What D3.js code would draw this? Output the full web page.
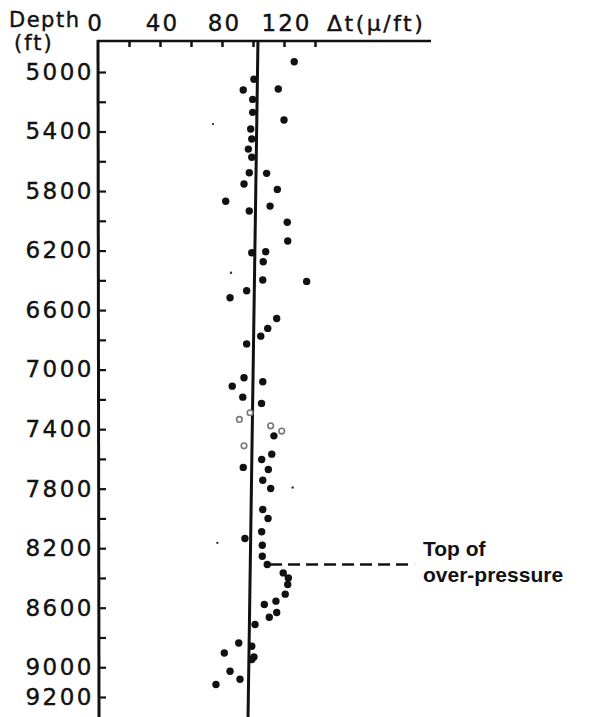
<!DOCTYPE html>
<html lang="en">
<head>
  <meta charset="UTF-8" />
  <title>Sonic log vs depth</title>
  <style>
    html, body {
      margin: 0;
      padding: 0;
      background: #fff;
    }
    svg text {
      font-family: "DejaVu Sans", sans-serif;
      fill: #111;
      stroke: #111;
      stroke-width: 0.4px;
    }
    svg text.note {
      font-family: "Liberation Sans", Arial, sans-serif;
      font-weight: bold;
      stroke: none;
    }
  </style>
</head>
<body>
  <svg id="chart" width="599" height="717"></svg>

  <script src="https://d3js.org/d3.v7.min.js"></script>
  <script>
    // depth (ft) and transit time (μs/ft)
    const depth = [4931, 5049, 5121, 5114, 5184, 5271, 5323, 5383, 5450, 5518,
      5573, 5677, 5681, 5753, 5789, 5869, 5901, 5934, 6010, 6136,
      6215, 6208, 6275, 6398, 6407, 6470, 6517, 6656, 6723, 6775,
      6827, 7055, 7082, 7111, 7185, 7227, 7290, 7335, 7378, 7413,
      7445, 7512, 7568, 7604, 7657, 7671, 7743, 7799, 7940, 8000,
      8090, 8135, 8180, 8254, 8310, 8366, 8400, 8444, 8509, 8556,
      8578, 8632, 8664, 8713, 8837, 8859, 8904, 8931, 8948, 9027,
      9081, 9116];
    const dt = [126.6, 100.6, 93.7, 116.3, 99.8, 99.8, 120.0, 98.5, 99.2, 97.0,
      99.2, 97.6, 108.8, 94.2, 115.7, 82.4, 111.0, 97.6, 122.1, 122.4,
      99.2, 108.2, 106.6, 106.3, 134.6, 95.9, 85.2, 115.3, 109.5, 105.0,
      95.9, 94.2, 106.3, 86.6, 93.4, 105.5, 98.1, 91.2, 111.4, 118.5,
      113.5, 94.2, 112.1, 105.6, 93.7, 109.9, 106.3, 111.4, 106.3, 109.7,
      105.6, 94.8, 106.0, 106.0, 109.2, 119.5, 122.8, 122.4, 120.8, 114.8,
      107.3, 115.3, 110.5, 101.3, 90.8, 99.2, 81.5, 100.6, 99.2, 85.2,
      91.6, 76.1];
    // faint, half-printed points around 7300-7500 ft
    const faintPoints = [36, 37, 38, 39, 41];

    // stray specks on the original print
    const speckDepth = [5350, 6349, 7792, 8164];
    const speckDt = [74.2, 85.8, 125.6, 77.0];

    // normal compaction trend line
    const trendDepth = [4792, 9336];
    const trendDt = [103.2, 96.8];

    const overPressureDepth = 8310;
    const overPressureDt = [111, 204];

    const xTicks = [0, 20, 40, 60, 80, 100, 120, 140];
    const xLabels = [0, 40, 80, 120];
    const yTicks = [5000, 5200, 5400, 5600, 5800, 6000, 6200, 6400, 6600, 6800,
      7000, 7200, 7400, 7600, 7800, 8000, 8200, 8400, 8600, 8800, 9000, 9200];
    const yLabels = [5000, 5400, 5800, 6200, 6600, 7000, 7400, 7800, 8200, 8600, 9000, 9200];

    const svg = d3.select("#chart");

    const x = d3.scaleLinear().domain([0, 140]).range([98, 315]);
    const y = d3.scaleLinear().domain([5000, 9200]).range([72, 697]);
    const axisTopY = 41;
    const axisLeftX = 98;

    // top axis
    const gTop = svg.append("g")
      .attr("transform", `translate(0,${axisTopY})`)
      .call(d3.axisTop(x)
        .tickValues(xTicks)
        .tickSizeInner(-6)
        .tickSizeOuter(0)
        .tickPadding(10)
        .tickFormat(d => xLabels.includes(d) ? d : ""));
    gTop.select(".domain").remove();
    gTop.selectAll(".tick line").attr("stroke", "#111").attr("stroke-width", 2.5);
    gTop.selectAll(".tick").filter(d => d === 0).select("line").remove();
    gTop.selectAll(".tick text")
      .style("font-size", "23px")
      .style("letter-spacing", "2px")
      .attr("dx", d => d === 0 ? "-3" : "2");

    svg.append("line")
      .attr("x1", axisLeftX - 1).attr("x2", 431)
      .attr("y1", axisTopY).attr("y2", axisTopY)
      .attr("stroke", "#111").attr("stroke-width", 2.5);

    // left axis, ticks point inward
    const gLeft = svg.append("g")
      .attr("transform", `translate(${axisLeftX},0)`)
      .call(d3.axisLeft(y)
        .tickValues(yTicks)
        .tickSizeInner(-8)
        .tickSizeOuter(0)
        .tickPadding(4)
        .tickFormat(d => yLabels.includes(d) ? d : ""));
    gLeft.select(".domain").remove();
    gLeft.selectAll(".tick line").attr("stroke", "#111").attr("stroke-width", 2.2);
    gLeft.selectAll(".tick text")
      .style("font-size", "23px")
      .style("letter-spacing", "2.5px");

    svg.append("line")
      .attr("x1", axisLeftX).attr("x2", axisLeftX + 1)
      .attr("y1", axisTopY - 1).attr("y2", 717)
      .attr("stroke", "#111").attr("stroke-width", 3);

    // axis titles
    svg.append("text").attr("x", 9).attr("y", 27)
      .style("font-size", "21px").style("letter-spacing", "1.5px").text("Depth");
    svg.append("text").attr("x", 14).attr("y", 50)
      .style("font-size", "21px").style("letter-spacing", "2px").text("(ft)");
    svg.append("text").attr("x", 327).attr("y", 31)
      .style("font-size", "22px").style("letter-spacing", "2.5px").text("Δt(μ/ft)");

    // trend line
    svg.append("line")
      .attr("x1", x(trendDt[0])).attr("y1", y(trendDepth[0]))
      .attr("x2", x(trendDt[1])).attr("y2", y(trendDepth[1]))
      .attr("stroke", "#111").attr("stroke-width", 3);

    // top of over-pressure marker
    svg.append("line")
      .attr("x1", x(overPressureDt[0])).attr("x2", x(overPressureDt[1]))
      .attr("y1", y(overPressureDepth)).attr("y2", y(overPressureDepth))
      .attr("stroke", "#111").attr("stroke-width", 2.4)
      .attr("stroke-dasharray", "12,6");
    svg.append("text").attr("class", "note")
      .attr("x", 423).attr("y", 556)
      .style("font-size", "21px").text("Top of");
    svg.append("text").attr("class", "note")
      .attr("x", 423).attr("y", 582)
      .style("font-size", "21px").text("over-pressure");

    // data points
    svg.append("g").selectAll("circle")
      .data(depth)
      .join("circle")
      .attr("cx", (d, i) => x(dt[i]))
      .attr("cy", d => y(d))
      .attr("r", (d, i) => faintPoints.includes(i) ? 2.8 : 3.7)
      .attr("fill", (d, i) => faintPoints.includes(i) ? "#fff" : "#111")
      .attr("stroke", (d, i) => faintPoints.includes(i) ? "#777" : "none")
      .attr("stroke-width", 1.6);

    svg.append("g").selectAll("circle")
      .data(speckDepth)
      .join("circle")
      .attr("cx", (d, i) => x(speckDt[i]))
      .attr("cy", d => y(d))
      .attr("r", 1.2)
      .attr("fill", "#333");
  </script>
</body>
</html>
